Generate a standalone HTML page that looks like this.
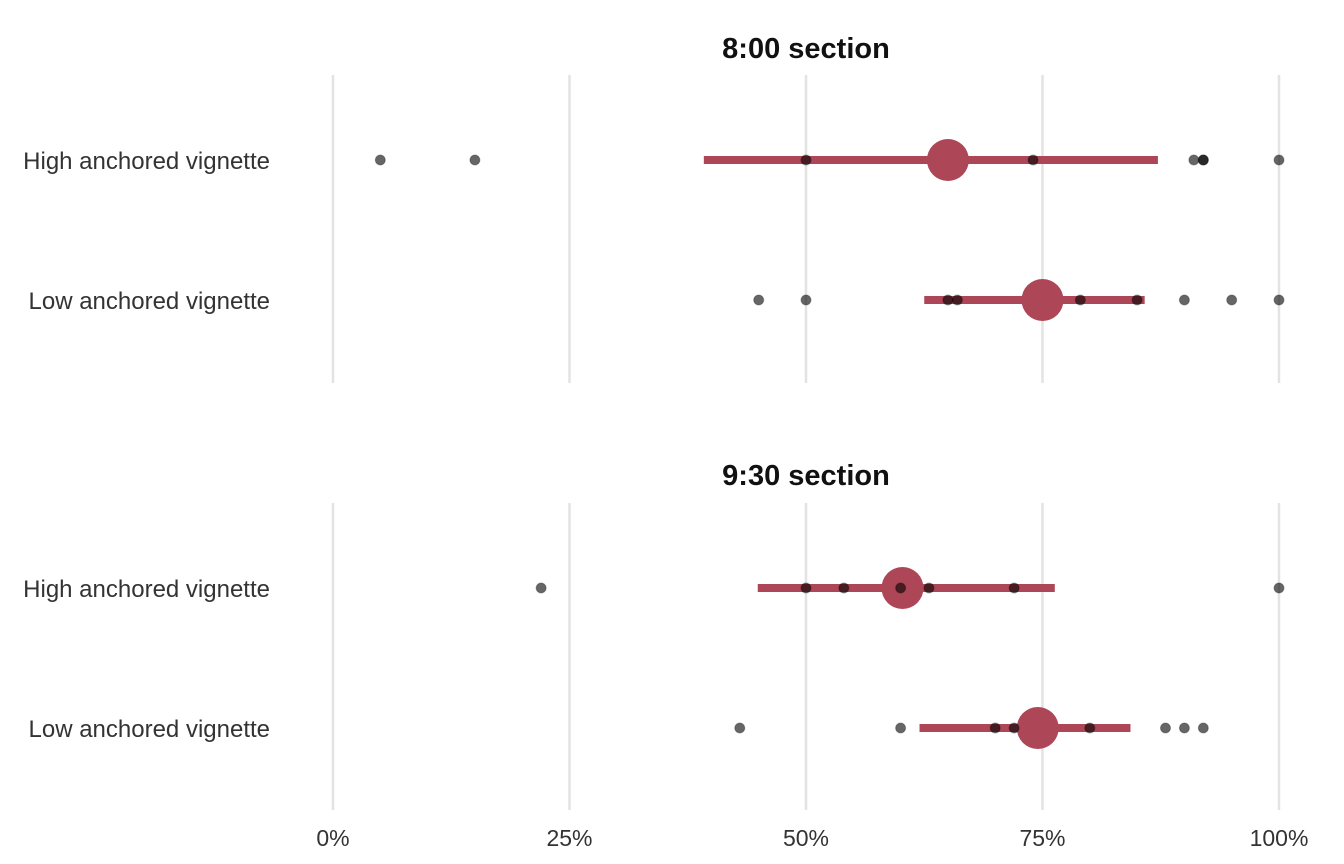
<!DOCTYPE html>
<html><head><meta charset="utf-8"><style>
body{margin:0;background:#fff;}
svg{display:block;font-family:"Liberation Sans Narrow","Liberation Sans",sans-serif;}
</style></head><body>
<svg id="chart" width="1344" height="864"></svg>
<script>
const panels = ["8:00 section", "9:30 section"];
const rows = ["High anchored vignette", "Low anchored vignette"];
const pointsTopHigh = [5, 15, 50, 74, 91, 92, 92, 100];
const pointsTopLow = [45, 50, 65, 66, 79, 85, 90, 95, 100];
const pointsBotHigh = [22, 50, 54, 60, 63, 72, 100];
const pointsBotLow = [43, 60, 70, 72, 80, 88, 90, 92];
const means = [[65, 75], [60.2, 74.5]];
const ciLow = [[39.2, 62.5], [44.9, 62]];
const ciHigh = [[87.2, 85.8], [76.3, 84.3]];
const ticks = [0, 25, 50, 75, 100];
const tickLabels = ["0%", "25%", "50%", "75%", "100%"];

const NS = "http://www.w3.org/2000/svg";
const svg = document.getElementById("chart");
const x = v => 333 + v * 9.46;
const panelTop = [75, 503];
const panelBottom = [383, 810];
const titleY = [48, 475];
const rowY = (p, r) => panelTop[p] + 85 + r * 140;
const pts = [[pointsTopHigh, pointsTopLow], [pointsBotHigh, pointsBotLow]];

function mk(tag, attrs, parent) {
  const e = document.createElementNS(NS, tag);
  for (const k in attrs) e.setAttribute(k, attrs[k]);
  (parent || svg).appendChild(e);
  return e;
}

panels.forEach((title, p) => {
  const g = mk("g", {});
  
  
  const t = mk("text", {x: 806, y: titleY[p] + 10, "text-anchor": "middle", "font-size": 29, "font-weight": "bold", fill: "#111"}, g);
  t.textContent = title;
  
  
  ticks.forEach(v => {
    const l = mk("line", {x1: x(v), x2: x(v), y1: panelTop[p], y2: panelBottom[p], stroke: "#e3e3e3", "stroke-width": 2.5}, g);
    
    
  });
  rows.forEach((name, r) => {
    const y = rowY(p, r);
    const lab = mk("text", {x: 270, y: y + 9, "text-anchor": "end", "font-size": 24, fill: "#333"}, g);
    lab.textContent = name;
    
    
    const ci = mk("line", {x1: x(ciLow[p][r]), x2: x(ciHigh[p][r]), y1: y, y2: y, stroke: "#ad4656", "stroke-width": 8}, g);
    
    
    const m = mk("circle", {cx: x(means[p][r]), cy: y, r: 21, fill: "#ad4656"}, g);
    
    
    pts[p][r].forEach(v => {
      const c = mk("circle", {cx: x(v), cy: y, r: 5, fill: "rgba(0,0,0,0.6)", stroke: "rgba(0,0,0,0.3)", "stroke-width": 1}, g);
      
      
    });
  });
});

ticks.forEach((v, i) => {
  const t = mk("text", {x: x(v), y: 846, "text-anchor": "middle", "font-size": 23, fill: "#333"});
  t.textContent = tickLabels[i];
  
  
});
</script>
</body></html>
